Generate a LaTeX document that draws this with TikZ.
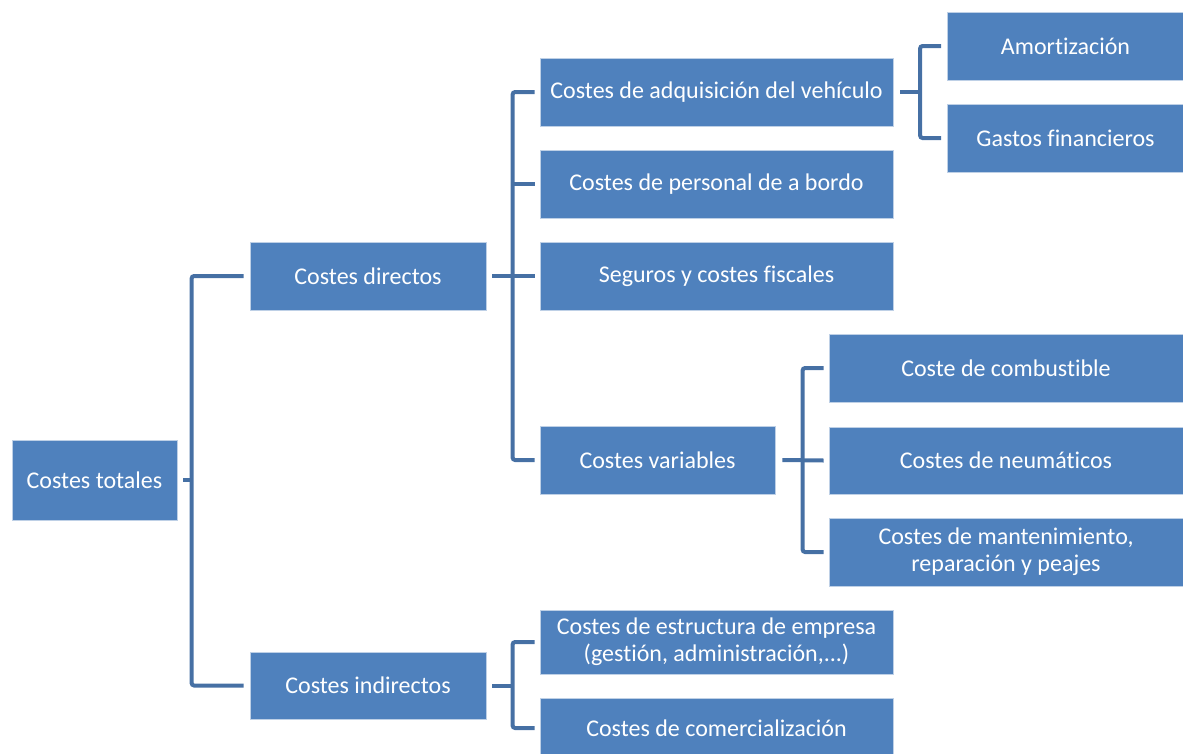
\documentclass[tikz,border=0pt]{standalone}
\usepackage{fontspec}
\setmainfont[Ligatures={NoCommon}]{Carlito}
\definecolor{boxfill}{RGB}{79,129,189}
\definecolor{boxline}{RGB}{190,208,230}
\definecolor{conncol}{RGB}{70,112,164}
\tikzset{
  box/.style={draw=boxline, line width=0.8pt, fill=boxfill, text=white, align=center,
    inner sep=0pt, font=\fontsize{24}{27}\selectfont},
  conn/.style={draw=conncol, line width=4pt, rounded corners=2.5pt, line cap=butt},
}
\begin{document}
\begin{tikzpicture}[x=1pt,y=-1pt]
\useasboundingbox (0,0) rectangle (1183,753);
\clip (0,0) rectangle (1183,753);
% level 1
\node[box, minimum width=165pt, minimum height=80pt] (tot) at (94.5,480) {Costes totales};
% level 2
\node[box, minimum width=236pt, minimum height=68pt] (dir) at (368,276) {Costes directos};
\node[box, minimum width=236pt, minimum height=67pt] (ind) at (368,685.5) {Costes indirectos};
% level 3
\node[box, minimum width=353pt, minimum height=68pt] (adq) at (716.5,92) {Costes de adquisición del vehículo};
\node[box, minimum width=353pt, minimum height=68pt] (per) at (716.5,184) {Costes de personal de a bordo};
\node[box, minimum width=353pt, minimum height=68pt] (seg) at (716.5,276) {Seguros y costes fiscales};
\node[box, minimum width=235pt, minimum height=68pt] (var) at (657.5,460) {Costes variables};
\node[box, minimum width=353pt, minimum height=64pt] (est) at (716.5,642) {Costes de estructura de empresa\\(gestión, administración,...)};
\node[box, minimum width=353pt, minimum height=60pt] (com) at (716.5,728) {Costes de comercialización};
% level 4
\node[box, minimum width=236pt, minimum height=68pt] (amo) at (1065.5,46) {Amortización};
\node[box, minimum width=236pt, minimum height=68pt] (gas) at (1065.5,138) {Gastos financieros};
\node[box, minimum width=354pt, minimum height=68pt] (cmb) at (1006,368) {Coste de combustible};
\node[box, minimum width=354pt, minimum height=67pt] (neu) at (1006,460.5) {Costes de neumáticos};
\node[box, minimum width=354pt, minimum height=68pt] (man) at (1006,552) {Costes de mantenimiento,\\reparación y peajes};
% connectors: totales
\draw[conn] ([xshift=6pt]tot.east) -- ([xshift=-58pt]dir.west |- tot.east);
\draw[conn] ([xshift=-6pt]dir.west) -| ([xshift=-58pt]ind.west) -- ([xshift=-6pt]ind.west);
% connectors: directos
\draw[conn] ([xshift=6pt]dir.east) -- ([xshift=-5pt]seg.west);
\draw[conn] ([xshift=-5pt]adq.west) -| ([xshift=-27pt]var.west) -- ([xshift=-5pt]var.west);
\draw[conn] ([xshift=-27pt]per.west) -- ([xshift=-5pt]per.west);
% connectors: adquisicion
\draw[conn] ([xshift=7pt]adq.east) -- ([xshift=-27pt]amo.west |- adq.east);
\draw[conn] ([xshift=-6pt]amo.west) -| ([xshift=-27pt]gas.west) -- ([xshift=-6pt]gas.west);
% connectors: variables
\draw[conn] ([xshift=7pt]var.east) -- ([xshift=-5pt]neu.west);
\draw[conn] ([xshift=-5pt]cmb.west) -| ([xshift=-26pt]man.west) -- ([xshift=-5pt]man.west);
% connectors: indirectos
\draw[conn] ([xshift=6pt]ind.east) -- ([xshift=-27pt]est.west |- ind.east);
\draw[conn] ([xshift=-5pt]est.west) -| ([xshift=-27pt]com.west) -- ([xshift=-5pt]com.west);
\end{tikzpicture}
\end{document}
